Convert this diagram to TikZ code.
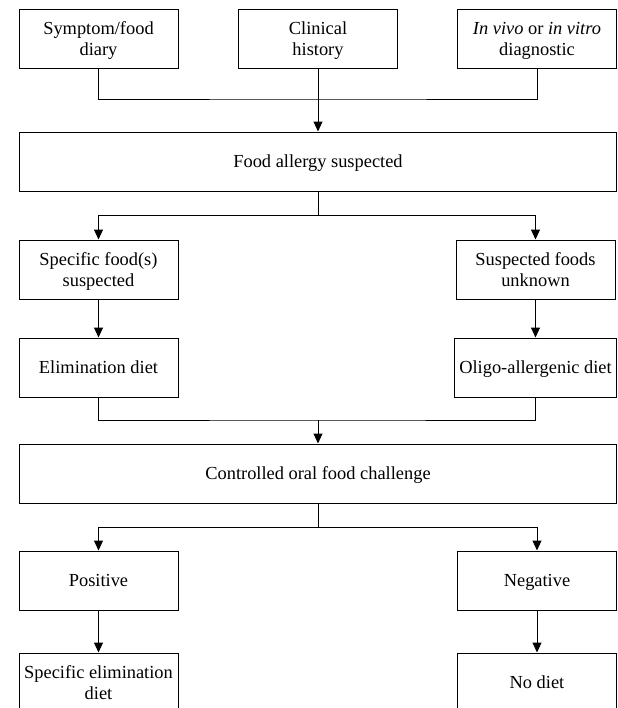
\documentclass[tikz,border=0pt]{standalone}
\usepackage{fontspec}
\setmainfont{Liberation Serif}
\usetikzlibrary{arrows.meta}

\begin{document}
\begin{tikzpicture}[x=0.5pt,y=-0.5pt,line width=0.5pt,
box/.style = {draw, align=center, inner sep=0pt, minimum height=29.5pt, text depth=-0.15em, font=\fontsize{9.2}{10.5}\selectfont},
small/.style = {box, minimum width=79.5pt},
wide/.style = {box, minimum width=298.5pt},
>={Triangle[length=5pt,width=4.5pt]}]
\useasboundingbox (0,0) rectangle (617,708);
\clip (0,0) rectangle (617,708);
\node[small] (diary) at (98.5,38.5) {Symptom/food\\diary};
\node[small] (history) at (318,38.5) {Clinical\\history};
\node[small] (vivo) at (537,38.5) {\textit{In vivo} or \textit{in vitro}\\diagnostic};
\node[wide] (suspected) at (318,161.5) {Food allergy suspected};
\node[small] (specific) at (98.5,269.5) {Specific food(s)\\suspected};
\node[small] (unknown) at (535.5,269.5) {Suspected foods\\unknown};
\node[small] (elim) at (98.5,367.5) {Elimination diet};
\node[small,minimum width=81pt] (oligo) at (535.5,367.5) {Oligo-allergenic diet};
\node[wide] (challenge) at (318,473.5) {Controlled oral food challenge};
\node[small] (positive) at (98.5,580.5) {Positive};
\node[small] (negative) at (537,580.5) {Negative};
\node[small] (specelim) at (98.5,682.5) {Specific elimination\\diet};
\node[small] (nodiet) at (537,682.5) {No diet};
\coordinate (join) at (318,99);
\coordinate (split) at (318,215);
\coordinate (merge) at (318,420);
\coordinate (branch) at (318,527);
\draw (diary.south) |- (join) -| (vivo.south);
\draw[->] (history) -- (suspected);
\draw (suspected) -- (split);
\draw[->] (split) -| (specific);
\draw[->] (split) -| (unknown);
\draw[->] (specific) -- (elim);
\draw[->] (unknown) -- (oligo);
\draw (elim.south) |- (merge) -| (oligo.south);
\draw[->] (merge) -- (challenge);
\draw (challenge) -- (branch);
\draw[->] (branch) -| (positive);
\draw[->] (branch) -| (negative);
\draw[->] (positive) -- (specelim);
\draw[->] (negative) -- (nodiet);
\end{tikzpicture}
\end{document}
